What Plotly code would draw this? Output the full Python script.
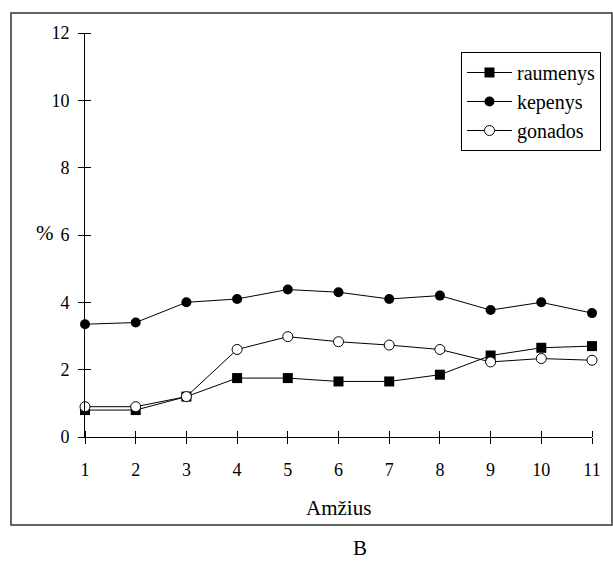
import plotly.graph_objects as go

age = [1, 2, 3, 4, 5, 6, 7, 8, 9, 10, 11]
raumenys = [0.8, 0.8, 1.2, 1.75, 1.75, 1.65, 1.65, 1.85, 2.42, 2.65, 2.7]
kepenys = [3.35, 3.4, 4.0, 4.1, 4.38, 4.3, 4.1, 4.2, 3.77, 4.0, 3.68]
gonados = [0.9, 0.9, 1.2, 2.6, 2.98, 2.83, 2.73, 2.6, 2.23, 2.33, 2.28]
yticks = [0, 2, 4, 6, 8, 10, 12]

FONT = "Liberation Serif, DejaVu Serif"

fig = go.Figure()
fig.add_trace(go.Scatter(x=age, y=raumenys, name="raumenys", mode="lines+markers",
                         line=dict(color="black", width=1),
                         marker=dict(symbol="square", size=10, color="black"),
                         cliponaxis=False))
fig.add_trace(go.Scatter(x=age, y=kepenys, name="kepenys", mode="lines+markers",
                         line=dict(color="black", width=1),
                         marker=dict(symbol="circle", size=10, color="black"),
                         cliponaxis=False))
fig.add_trace(go.Scatter(x=age, y=gonados, name="gonados", mode="lines+markers",
                         line=dict(color="black", width=1),
                         marker=dict(symbol="circle", size=10, color="white",
                                     line=dict(color="black", width=1)),
                         cliponaxis=False))

minor_x = [a + 1e-6 for a in age]
minor_y = [v + 1e-6 for v in yticks]

axcommon = dict(showgrid=False, zeroline=False, showline=True, linecolor="black",
                linewidth=1, tickcolor="black", tickwidth=1, ticklen=6,
                tickfont=dict(family=FONT, size=18, color="black"))

fig.update_layout(
    template="none",
    width=613, height=561,
    margin=dict(l=85, r=21, t=33, b=124, autoexpand=False),
    paper_bgcolor="white", plot_bgcolor="white",
    font=dict(family=FONT, size=18, color="black"),
    showlegend=True,
    legend=dict(x=0.7416, y=0.953, xanchor="left", yanchor="top",
                bordercolor="black", borderwidth=1, bgcolor="white",
                font=dict(family=FONT, size=20), tracegroupgap=0, itemwidth=45),
    xaxis=dict(range=[1, 11], tickvals=age, ticks="outside", ticklabelstandoff=10,
               minor=dict(ticks="inside", tickvals=minor_x, ticklen=6,
                          tickcolor="black", tickwidth=1, showgrid=False),
               **axcommon),
    yaxis=dict(range=[0, 12], tickvals=yticks, ticks="outside", ticklabelstandoff=5,
               minor=dict(ticks="inside", tickvals=minor_y, ticklen=6,
                          tickcolor="black", tickwidth=1, showgrid=False),
               **axcommon),
)

fig.add_shape(type="rect", xref="paper", yref="paper",
              x0=-0.146, x1=1.0394, y0=-0.2178, y1=1.0495,
              line=dict(color="#333333", width=1.5))

fig.add_annotation(text="Amžius", xref="paper", yref="paper", x=0.5, y=-0.1757,
                   showarrow=False, font=dict(family=FONT, size=21), yanchor="middle")
fig.add_annotation(text="B", xref="paper", yref="paper", x=0.542, y=-0.2748,
                   showarrow=False, font=dict(family=FONT, size=21), yanchor="middle")
fig.add_annotation(text="%", xref="paper", yref="paper", x=-0.1006, y=0.505,
                   showarrow=False, font=dict(family=FONT, size=21), yanchor="middle")

fig.write_html("out.html")
